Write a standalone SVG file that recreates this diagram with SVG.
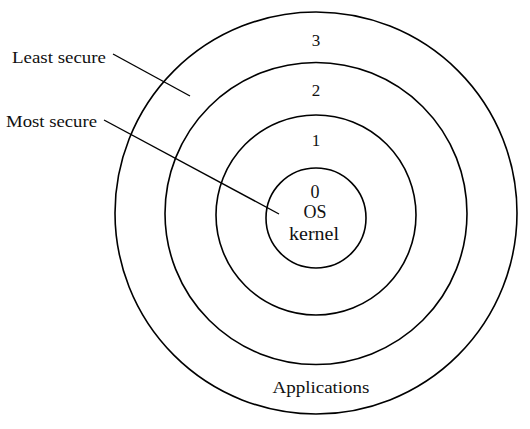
<svg xmlns="http://www.w3.org/2000/svg" width="530" height="429" viewBox="0 0 530 429">
<style>
.ring{fill:none;stroke:#000;stroke-width:1.6}
.lead{stroke:#000;stroke-width:1.4;fill:none}
text{font-family:"Liberation Serif","Times New Roman",serif;font-size:17px;fill:#111}
.c{text-anchor:middle}
.k{font-size:18px}
</style>
<rect width="530" height="429" fill="#fff"/>
<g id="ring3"><circle class="ring" cx="316" cy="213" r="201"/><text class="c" x="316" y="46">3</text><text class="c" x="321" y="393" textLength="97" lengthAdjust="spacingAndGlyphs">Applications</text></g>
<g id="ring2"><circle class="ring" cx="316" cy="213.5" r="151"/><text class="c" x="316" y="96">2</text></g>
<g id="ring1"><circle class="ring" cx="316" cy="215" r="100"/><text class="c" x="316" y="146">1</text></g>
<g id="ring0"><circle class="ring" cx="316" cy="218" r="50"/><text class="c k" x="315" y="198">0</text><text class="c k" x="315" y="218">OS</text><text class="c k" x="314" y="240" textLength="50" lengthAdjust="spacingAndGlyphs">kernel</text></g>
<g id="label-least"><text x="12" y="63" textLength="94" lengthAdjust="spacingAndGlyphs">Least secure</text></g>
<g id="label-most"><text x="6" y="127" textLength="91" lengthAdjust="spacingAndGlyphs">Most secure</text></g>
<g id="connectors">
<line class="lead" x1="113" y1="54" x2="190" y2="96"/>
<line class="lead" x1="104" y1="120" x2="279" y2="214"/>
</g>
</svg>
